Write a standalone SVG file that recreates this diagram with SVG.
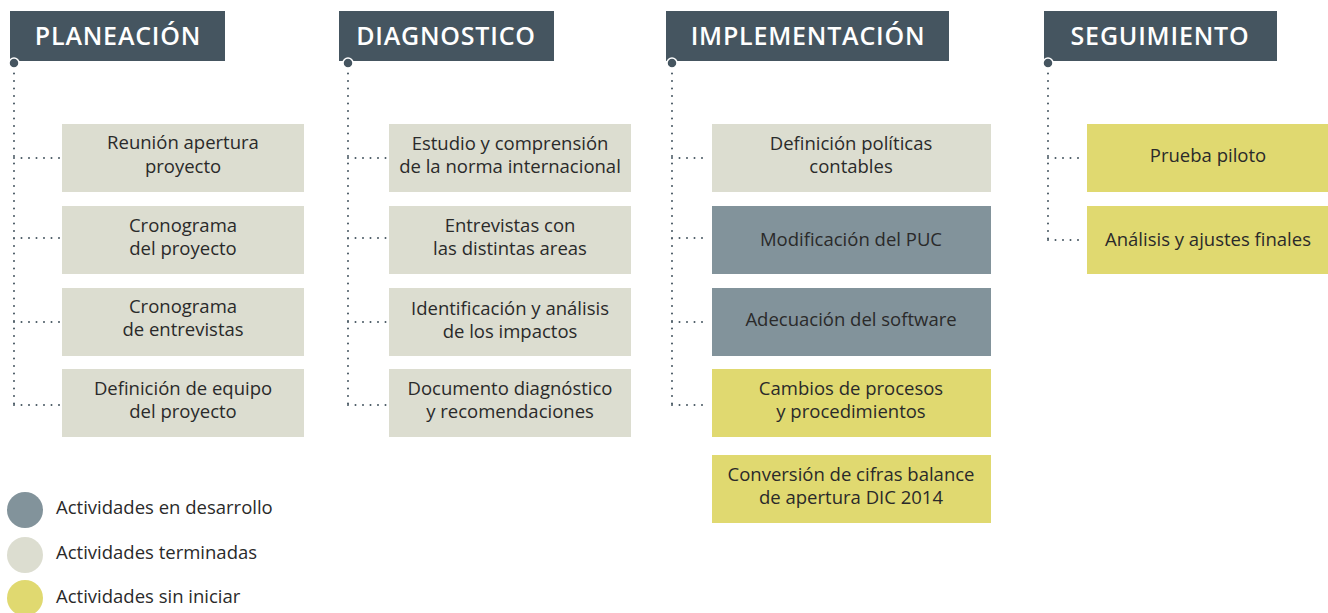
<svg xmlns="http://www.w3.org/2000/svg" width="1328" height="613" viewBox="0 0 1328 613">
<style>
.hdr{fill:#455560}
.hdrt{fill:#ffffff;font-family:"Open Sans","Liberation Sans",sans-serif;font-weight:600;font-size:25px;letter-spacing:0.8px;text-anchor:middle}
.done{fill:#dcddd0}
.dev{fill:#82939b}
.todo{fill:#e0d970}
.t{fill:#2a2a2a;font-family:"Open Sans","Liberation Sans",sans-serif;font-size:18.5px;text-anchor:middle}
.lg{fill:#2a2a2a;font-family:"Open Sans","Liberation Sans",sans-serif;font-size:18.5px}
.dot{fill:#455560;stroke:#ffffff;stroke-width:1.5}
.c{fill:none;stroke:#455560;stroke-width:2;stroke-dasharray:0 7.5;stroke-linecap:round}
</style>
<g id="connectors">
<path class="c" d="M14 66 V405 M14 158 H60 M14 238 H60 M14 322 H60 M14 405 H60"/>
<path class="c" d="M348 66 V405 M348 158 H386 M348 238 H386 M348 322 H386 M348 405 H386"/>
<path class="c" d="M672 66 V405 M672 158 H708 M672 238 H708 M672 322 H708 M672 405 H708"/>
<path class="c" d="M1048 66 V240 M1048 158 H1084 M1048 240 H1084"/>
</g>
<g id="planeacion"><rect class="hdr" x="10" y="11" width="215" height="50"/><text class="hdrt" x="118" y="45">PLANEACIÓN</text><circle class="dot" cx="14" cy="63" r="5"/></g>
<g id="diagnostico"><rect class="hdr" x="339" y="11" width="215" height="50"/><text class="hdrt" x="446" y="45">DIAGNOSTICO</text><circle class="dot" cx="348" cy="63" r="5"/></g>
<g id="implementacion"><rect class="hdr" x="666" y="11" width="283" height="50"/><text class="hdrt" x="808" y="45">IMPLEMENTACIÓN</text><circle class="dot" cx="672" cy="63" r="5"/></g>
<g id="seguimiento"><rect class="hdr" x="1044" y="11" width="233" height="50"/><text class="hdrt" x="1160" y="45">SEGUIMIENTO</text><circle class="dot" cx="1048" cy="63" r="5"/></g>

<g id="p1"><rect class="done" x="62" y="124" width="242" height="68"/><text class="t" x="183" y="149">Reunión apertura</text><text class="t" x="183" y="173">proyecto</text></g>
<g id="p2"><rect class="done" x="62" y="206" width="242" height="68"/><text class="t" x="183" y="232">Cronograma</text><text class="t" x="183" y="255">del proyecto</text></g>
<g id="p3"><rect class="done" x="62" y="288" width="242" height="68"/><text class="t" x="183" y="313">Cronograma</text><text class="t" x="183" y="336">de entrevistas</text></g>
<g id="p4"><rect class="done" x="62" y="369" width="242" height="68"/><text class="t" x="183" y="395">Definición de equipo</text><text class="t" x="183" y="418">del proyecto</text></g>

<g id="d1"><rect class="done" x="389" y="124" width="242" height="68"/><text class="t" x="510" y="150">Estudio y comprensión</text><text class="t" x="510" y="173">de la norma internacional</text></g>
<g id="d2"><rect class="done" x="389" y="206" width="242" height="68"/><text class="t" x="510" y="232">Entrevistas con</text><text class="t" x="510" y="255">las distintas areas</text></g>
<g id="d3"><rect class="done" x="389" y="288" width="242" height="68"/><text class="t" x="510" y="315">Identificación y análisis</text><text class="t" x="510" y="338">de los impactos</text></g>
<g id="d4"><rect class="done" x="389" y="369" width="242" height="68"/><text class="t" x="510" y="395">Documento diagnóstico</text><text class="t" x="510" y="418">y recomendaciones</text></g>

<g id="i1"><rect class="done" x="712" y="124" width="279" height="68"/><text class="t" x="851" y="150">Definición políticas</text><text class="t" x="851" y="173">contables</text></g>
<g id="i2"><rect class="dev" x="712" y="206" width="279" height="68"/><text class="t" x="851" y="246">Modificación del PUC</text></g>
<g id="i3"><rect class="dev" x="712" y="288" width="279" height="68"/><text class="t" x="851" y="326">Adecuación del software</text></g>
<g id="i4"><rect class="todo" x="712" y="369" width="279" height="68"/><text class="t" x="851" y="395">Cambios de procesos</text><text class="t" x="851" y="418">y procedimientos</text></g>
<g id="i5"><rect class="todo" x="712" y="455" width="279" height="68"/><text class="t" x="851" y="481">Conversión de cifras balance</text><text class="t" x="851" y="504">de apertura DIC 2014</text></g>

<g id="s1"><rect class="todo" x="1087" y="124" width="241" height="68"/><text class="t" x="1208" y="162">Prueba piloto</text></g>
<g id="s2"><rect class="todo" x="1087" y="206" width="241" height="68"/><text class="t" x="1208" y="246">Análisis y ajustes finales</text></g>

<g id="legend">
<circle class="dev" cx="25" cy="510" r="18"/><text class="lg" x="56" y="514">Actividades en desarrollo</text>
<circle class="done" cx="25" cy="555" r="18"/><text class="lg" x="56" y="559">Actividades terminadas</text>
<circle class="todo" cx="25" cy="598" r="18"/><text class="lg" x="56" y="603">Actividades sin iniciar</text>
</g>
</svg>
